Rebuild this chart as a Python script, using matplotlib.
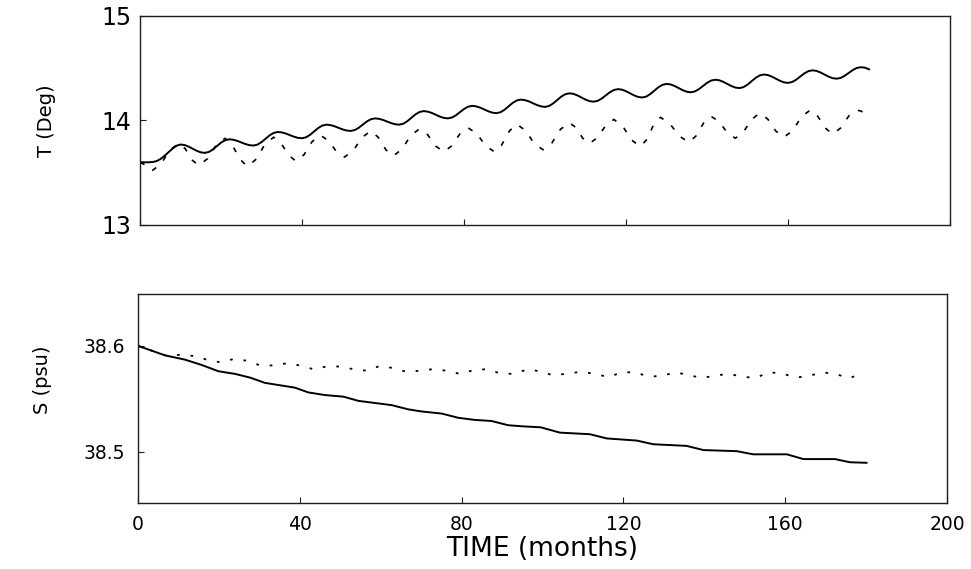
import matplotlib
matplotlib.use('Agg')
import matplotlib.pyplot as plt
import numpy as np

# top panel: temperature, solid run read month by month
t_months = np.arange(0, 181)
t_solid = [13.600, 13.600, 13.600, 13.602, 13.610, 13.630,
           13.660, 13.695, 13.730, 13.758, 13.770, 13.765,
           13.750, 13.730, 13.710, 13.695, 13.690, 13.699,
           13.723, 13.755, 13.788, 13.811, 13.820, 13.816,
           13.805, 13.790, 13.775, 13.764, 13.760, 13.769,
           13.793, 13.825, 13.858, 13.881, 13.890, 13.886,
           13.875, 13.860, 13.845, 13.834, 13.830, 13.839,
           13.863, 13.895, 13.928, 13.951, 13.960, 13.956,
           13.945, 13.930, 13.915, 13.904, 13.900, 13.908,
           13.930, 13.960, 13.990, 14.012, 14.020, 14.016,
           14.005, 13.990, 13.975, 13.964, 13.960, 13.969,
           13.993, 14.025, 14.058, 14.081, 14.090, 14.085,
           14.073, 14.055, 14.038, 14.025, 14.020, 14.028,
           14.050, 14.080, 14.110, 14.132, 14.140, 14.135,
           14.123, 14.105, 14.088, 14.075, 14.070, 14.079,
           14.103, 14.135, 14.168, 14.191, 14.200, 14.195,
           14.183, 14.165, 14.148, 14.135, 14.130, 14.139,
           14.163, 14.195, 14.228, 14.251, 14.260, 14.255,
           14.240, 14.220, 14.200, 14.185, 14.180, 14.188,
           14.210, 14.240, 14.270, 14.292, 14.300, 14.295,
           14.280, 14.260, 14.240, 14.225, 14.220, 14.229,
           14.253, 14.285, 14.318, 14.341, 14.350, 14.345,
           14.330, 14.310, 14.290, 14.275, 14.270, 14.278,
           14.300, 14.330, 14.360, 14.382, 14.390, 14.385,
           14.370, 14.350, 14.330, 14.315, 14.310, 14.319,
           14.343, 14.375, 14.408, 14.431, 14.440, 14.435,
           14.420, 14.400, 14.380, 14.365, 14.360, 14.368,
           14.390, 14.420, 14.450, 14.472, 14.480, 14.475,
           14.460, 14.440, 14.420, 14.405, 14.400, 14.407,
           14.428, 14.455, 14.483, 14.503, 14.510, 14.505,
           14.490]

# dashed run, read at extremes and between them
t_dash_months = [0, 1, 2, 3, 5.2, 7.3, 9.5, 11.2, 12.8, 14.5, 16.7, 18.8, 21, 22.8, 24.7,
                 26.5, 28.7, 30.8, 33, 34.8, 36.7, 38.5, 40.5, 42.5, 44.5, 46.5, 48.5,
                 50.5, 52.7, 54.8, 57, 58.8, 60.7, 62.5, 64.7, 66.8, 69, 71, 73, 75, 77,
                 79, 81, 83.2, 85.3, 87.5, 89.3, 91.2, 93, 95.2, 97.3, 99.5, 101.7, 103.8,
                 106, 107.7, 109.3, 111, 113, 115, 117, 119.2, 121.3, 123.5, 125.2, 126.8,
                 128.5, 130.8, 133.2, 135.5, 137.3, 139.2, 141, 143, 145, 147, 149, 151,
                 153, 155, 157, 159, 161.2, 163.3, 165.5, 167.3, 169.2, 171, 173, 175,
                 177, 178, 179, 180]
t_dash = [13.60, 13.58, 13.54, 13.52, 13.585, 13.715, 13.78, 13.728, 13.623, 13.57,
          13.635, 13.765, 13.83, 13.763, 13.628, 13.56, 13.63, 13.77, 13.84, 13.783,
          13.668, 13.61, 13.673, 13.798, 13.86, 13.808, 13.703, 13.65, 13.713, 13.838,
          13.90, 13.84, 13.72, 13.66, 13.725, 13.855, 13.92, 13.865, 13.755, 13.70,
          13.758, 13.873, 13.93, 13.873, 13.758, 13.70, 13.766, 13.899, 13.965, 13.904,
          13.781, 13.72, 13.785, 13.915, 13.98, 13.93, 13.83, 13.78, 13.838, 13.953,
          14.01, 13.945, 13.815, 13.75, 13.82, 13.96, 14.03, 13.97, 13.85, 13.79,
          13.853, 13.978, 14.04, 13.988, 13.883, 13.83, 13.89, 14.01, 14.07, 14.013,
          13.898, 13.84, 13.905, 14.035, 14.10, 14.043, 13.928, 13.87, 13.928, 14.043,
          14.10, 14.09, 14.07, 14.05]

# bottom panel: salinity
s_solid_months = [0, 6.7, 11.6, 15.7, 19.9, 24, 27.7, 31.4, 34.7, 38.8, 42.1, 46.2, 50.8,
                  54.5, 58.6, 62.7, 66.8, 70.1, 75.1, 79.2, 83.3, 87.4, 91.5, 94.9, 99.6,
                  104.3, 111.7, 115.9, 123.3, 127.4, 135.6, 139.8, 148, 152.1, 160.4,
                  164.5, 172.3, 176, 180.1]
s_solid = [38.600, 38.591, 38.587, 38.582, 38.576, 38.5735, 38.570, 38.565, 38.563,
           38.5605, 38.556, 38.5535, 38.552, 38.548, 38.546, 38.544, 38.540, 38.538,
           38.536, 38.532, 38.530, 38.529, 38.525, 38.524, 38.523, 38.518, 38.5165,
           38.5125, 38.5105, 38.507, 38.5055, 38.5015, 38.5005, 38.4975, 38.4975,
           38.493, 38.493, 38.490, 38.4895]

s_dot_months = [0, 6.7, 10.4, 13.7, 17, 20.3, 23.6, 26.9, 30.2, 33.4, 36.8, 40, 43.3,
                46.6, 49.9, 53.2, 56.5, 59.8, 63.1, 66.4, 69.7, 73, 76.3, 79.6, 82.9,
                86.2, 89.5, 92.8, 96.5, 99.8, 102.7, 106.4, 109.7, 113, 116.3, 119.6,
                122.9, 126.2, 129.5, 132.8, 136.1, 139.4, 142.7, 146, 149.3, 152.6,
                155.9, 159.2, 162.5, 165.8, 169.1, 172.4, 175.7, 179]
s_dot = [38.600, 38.591, 38.5915, 38.5905, 38.587, 38.5845, 38.5875, 38.586, 38.5815,
         38.5815, 38.5835, 38.5815, 38.578, 38.5805, 38.5805, 38.578, 38.5765, 38.581,
         38.579, 38.5755, 38.5765, 38.578, 38.5765, 38.5735, 38.577, 38.578, 38.574,
         38.5735, 38.578, 38.5755, 38.572, 38.574, 38.5755, 38.5735, 38.5705, 38.575,
         38.575, 38.571, 38.5715, 38.575, 38.5725, 38.5695, 38.572, 38.5735, 38.571,
         38.5695, 38.575, 38.574, 38.570, 38.5715, 38.575, 38.5735, 38.5695, 38.5735]

x_ticks = [0, 40, 80, 120, 160, 200]

plt.rcParams['font.family'] = ['DejaVu Sans']
edge = '#1c1c28'

fig = plt.figure(figsize=(9.71, 5.69), dpi=100)
ax1 = fig.add_axes([0.1442, 0.6046, 0.8342, 0.3673])
ax2 = fig.add_axes([0.1421, 0.1160, 0.8332, 0.3673])

ax1.plot(t_months, t_solid, color='black', lw=1.4, solid_joinstyle='round')
ax1.plot(t_dash_months, t_dash, color='black', lw=1.2, linestyle=(0, (3, 6)))
ax1.set_xlim(0, 200)
ax1.set_ylim(13, 15)
ax1.set_yticks([13, 14, 15])
ax1.set_xticks(x_ticks)
ax1.set_xticklabels([])
ax1.tick_params(direction='in', length=4, labelsize=17, pad=6, color=edge)
ax1.set_ylabel('T (Deg)', fontsize=14)
ax1.yaxis.set_label_coords(-0.104, 0.5)

ax2.plot(s_solid_months, s_solid, color='black', lw=1.4)
ax2.plot(s_dot_months, s_dot, color='black', lw=1.3, linestyle=(0, (1.5, 6)))
ax2.set_xlim(0, 200)
ax2.set_ylim(38.4515, 38.649)
ax2.set_yticks([38.5, 38.6])
ax2.set_yticklabels(['38.5', '38.6'])
ax2.set_xticks(x_ticks)
ax2.tick_params(direction='in', length=4, labelsize=13.5, color=edge)
ax2.tick_params(axis='x', pad=9)
ax2.tick_params(axis='y', pad=9)
ax2.set_ylabel('S (psu)', fontsize=14)
ax2.yaxis.set_label_coords(-0.106, 0.59)
ax2.set_xlabel('TIME (months)', fontsize=19, labelpad=1)

for ax in (ax1, ax2):
    for sp in ax.spines.values():
        sp.set_color(edge)
        sp.set_linewidth(1.0)

fig.savefig('out.png', dpi=100)
